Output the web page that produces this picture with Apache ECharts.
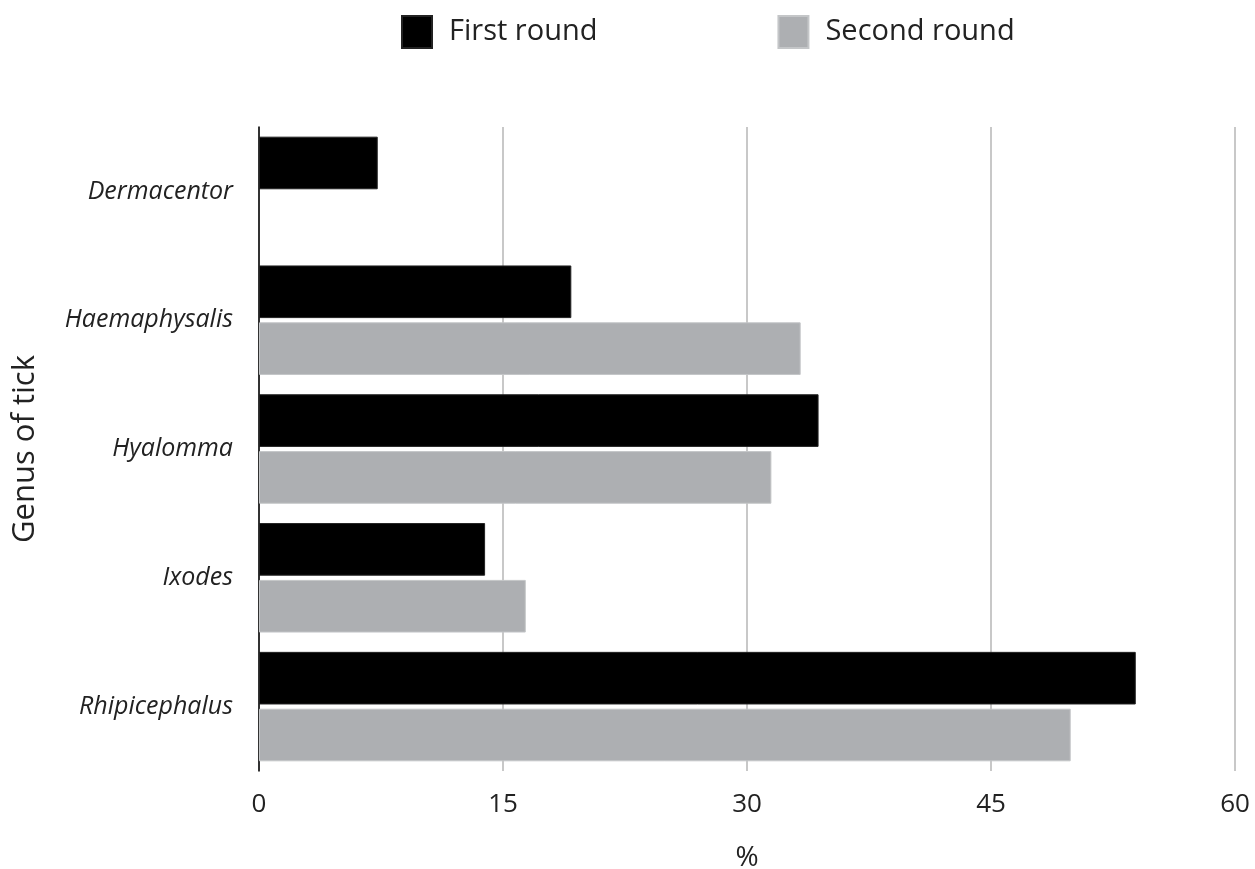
<!DOCTYPE html>
<html>
<head>
<meta charset="utf-8">
<script src="https://cdn.jsdelivr.net/npm/echarts@6/dist/echarts.min.js"></script>
<style>html,body{margin:0;padding:0;background:#fff}#c{width:1255px;height:869px}</style>
</head>
<body>
<div id="c"></div>
<script>
const categories = ['Dermacentor', 'Haemaphysalis', 'Hyalomma', 'Ixodes', 'Rhipicephalus'];
const firstRound = [7.3, 19.2, 34.4, 13.9, 53.9];
const secondRound = [null, 33.3, 31.5, 16.4, 49.9];
const seriesNames = ['First round', 'Second round'];
const xTicks = [0, 15, 30, 45, 60];

const FONT = '"Open Sans", "Noto Sans", sans-serif';
const chart = echarts.init(document.getElementById('c'), null, {renderer: 'canvas'});
chart.setOption({
  animation: false,
  textStyle: {fontFamily: FONT},
  legend: {
    top: 10, left: 396, itemWidth: 30, itemHeight: 32, itemGap: 180,
    icon: 'rect',
    textStyle: {fontSize: 29, color: '#222', fontFamily: FONT, padding: [0, 0, 0, 12]},
    data: seriesNames
  },
  grid: {left: 259, right: 20, top: 127, bottom: 98, containLabel: false, outerBoundsMode: 'none'},
  xAxis: {
    type: 'value', min: xTicks[0], max: xTicks[xTicks.length - 1], interval: 15,
    name: '%', nameLocation: 'middle', nameGap: 73,
    nameTextStyle: {fontSize: 28, color: '#222', fontFamily: FONT},
    axisLine: {show: false}, axisTick: {show: false},
    axisLabel: {fontSize: 26, color: '#222', margin: 21, fontFamily: FONT},
    splitLine: {show: true, lineStyle: {color: '#c8c8c8', width: 2}}
  },
  yAxis: {
    type: 'category', data: categories, inverse: true,
    name: 'Genus of tick', nameLocation: 'middle', nameGap: 218, nameRotate: 90,
    nameTextStyle: {fontSize: 31, color: '#222', fontFamily: FONT},
    axisLine: {show: true, lineStyle: {color: '#000', width: 1.5}},
    axisTick: {show: false},
    axisLabel: {fontSize: 25, fontStyle: 'italic', color: '#222', margin: 26, fontFamily: FONT},
    splitLine: {show: false}
  },
  series: [
    {name: seriesNames[0], type: 'bar', data: firstRound, barCategoryGap: '15%', barGap: '8%',
     itemStyle: {color: '#000000', borderColor: '#222', borderWidth: 1}},
    {name: seriesNames[1], type: 'bar', data: secondRound, barCategoryGap: '15%', barGap: '8%',
     itemStyle: {color: '#adafb2', borderColor: '#c4c6c8', borderWidth: 1}}
  ]
});
</script>
</body>
</html>
